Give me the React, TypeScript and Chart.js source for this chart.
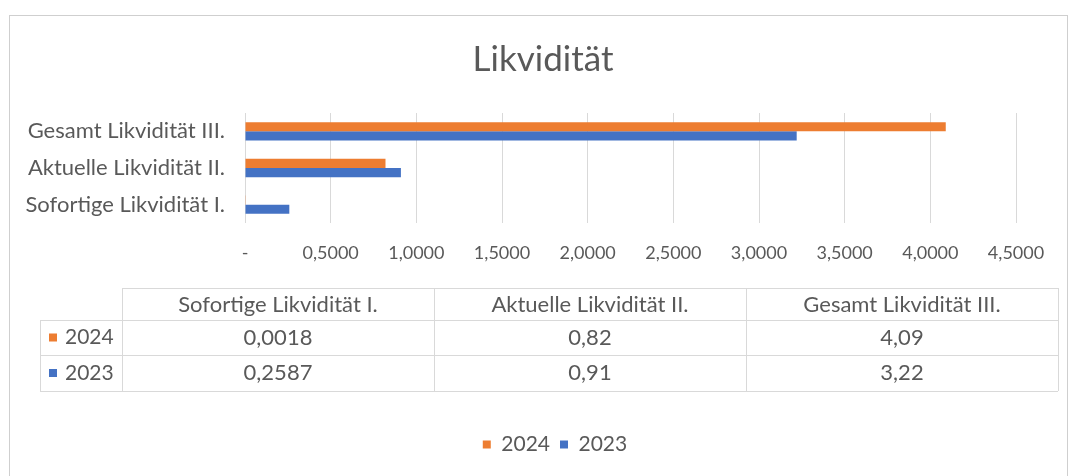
import React, { useEffect, useRef } from "react";
import { Chart, registerables } from "chart.js";

Chart.register(...registerables);

const categories = ["Sofortige Likvidität I.", "Aktuelle Likvidität II.", "Gesamt Likvidität III."];
const seriesNames = ["2024", "2023"];
const values2024 = [0.0018, 0.82, 4.09];
const values2023 = [0.2587, 0.91, 3.22];
const seriesColors = ["#ED7D31", "#4472C4"];
const titleText = "Likvidität";
const axisMin = 0;
const axisMax = 4.5;
const axisStep = 0.5;

const FONT = "Lato, 'Noto Sans', sans-serif";
const TEXT = "#595959";
const GRID = "#d9d9d9";

const fmtTick = (v: number) => (v === 0 ? "-" : v.toFixed(4).replace(".", ","));
const fmtCell = (v: number) => String(v).replace(".", ",");

const framePlugin = {
  id: "frame",
  beforeDraw(chart: any) {
    const ctx = chart.ctx;
    ctx.save();
    ctx.fillStyle = "#ffffff";
    ctx.fillRect(0, 0, chart.width, chart.height);
    ctx.strokeStyle = "#cfcfcf";
    ctx.lineWidth = 1;
    ctx.strokeRect(9.5, 15.5, 1058, 480);
    ctx.restore();
  },
};

const boxShiftPlugin = {
  id: "boxShift",
  afterLayout(chart: any) {
    const lg = chart.legend;
    if (lg) {
      lg.left += 42;
      lg.right += 42;
    }
    const tb = chart.titleBlock;
    if (tb) {
      tb.left += 30;
      tb.right += 30;
    }
  },
};

const tablePlugin = {
  id: "dataTable",
  afterDraw(chart: any) {
    const ctx = chart.ctx;
    const colL = 122;
    const colR = 1058;
    const labelL = 40;
    const rows = [288, 320, 355, 391];
    const n = categories.length;
    const colW = (colR - colL) / n;
    const series = [values2024, values2023];
    ctx.save();
    ctx.strokeStyle = GRID;
    ctx.lineWidth = 1;
    const line = (x1: number, y1: number, x2: number, y2: number) => {
      ctx.beginPath();
      ctx.moveTo(x1, y1);
      ctx.lineTo(x2, y2);
      ctx.stroke();
    };
    line(colL, rows[0] + 0.5, colR, rows[0] + 0.5);
    for (let r = 1; r < rows.length; r++) line(labelL, rows[r] + 0.5, colR, rows[r] + 0.5);
    for (let i = 0; i <= n; i++) {
      const x = Math.round(colL + i * colW) + 0.5;
      line(x, rows[0], x, rows[3]);
    }
    line(labelL + 0.5, rows[1], labelL + 0.5, rows[3]);

    ctx.fillStyle = TEXT;
    ctx.textAlign = "center";
    ctx.textBaseline = "middle";
    ctx.font = `22px ${FONT}`;
    categories.forEach((c, i) => {
      ctx.fillText(c, colL + colW * (i + 0.5), (rows[0] + rows[1]) / 2 + 1);
    });
    ctx.font = `22px ${FONT}`;
    series.forEach((vals, s) => {
      const yc = (rows[s + 1] + rows[s + 2]) / 2;
      vals.forEach((v, i) => {
        ctx.fillText(fmtCell(v), colL + colW * (i + 0.5), yc);
      });
      ctx.fillStyle = seriesColors[s];
      ctx.fillRect(labelL + 9, yc - 4, 8, 8);
      ctx.fillStyle = TEXT;
      ctx.textAlign = "left";
      ctx.font = `21px ${FONT}`;
      ctx.fillText(seriesNames[s], labelL + 25, yc);
      ctx.font = `22px ${FONT}`;
      ctx.textAlign = "center";
    });
    ctx.restore();
  },
};

export default function App() {
  const ref = useRef<HTMLCanvasElement | null>(null);
  useEffect(() => {
    document.body.style.margin = "0";
    const canvas = ref.current;
    if (!canvas) return;
    const chart = new Chart(canvas, {
      type: "bar",
      data: {
        labels: categories,
        datasets: [
          { label: seriesNames[0], data: values2024, backgroundColor: seriesColors[0] },
          { label: seriesNames[1], data: values2023, backgroundColor: seriesColors[1] },
        ],
      },
      options: {
        indexAxis: "y",
        responsive: false,
        animation: false,
        layout: { padding: { top: 20, left: 10, right: 58, bottom: 11 } },
        datasets: { bar: { barPercentage: 1, categoryPercentage: 0.5 } },
        scales: {
          y: {
            reverse: true,
            grid: { display: false, drawTicks: false },
            border: { display: false },
            ticks: { color: TEXT, font: { family: FONT, size: 22 }, padding: 20 },
            afterFit: (scale: any) => {
              scale.width = 235;
            },
          },
          x: {
            min: axisMin,
            max: axisMax,
            grid: { color: GRID, drawTicks: false },
            border: { display: false },
            ticks: {
              stepSize: axisStep,
              color: TEXT,
              font: { family: FONT, size: 18 },
              padding: 19,
              callback: (v: any) => fmtTick(Number(v)),
            },
            afterFit: (scale: any) => {
              scale.height = 201;
            },
          },
        },
        plugins: {
          title: {
            display: true,
            text: titleText,
            color: TEXT,
            font: { family: FONT, size: 35, weight: "normal" },
            padding: { top: 19, bottom: 32 },
          },
          legend: {
            position: "bottom",
            labels: {
              color: TEXT,
              font: { family: FONT, size: 21 },
              boxWidth: 8,
              boxHeight: 8,
              padding: 10,
            },
          },
          tooltip: { enabled: false },
        },
      },
      plugins: [framePlugin, boxShiftPlugin, tablePlugin],
    });
    return () => chart.destroy();
  }, []);
  return <canvas ref={ref} width={1074} height={476} style={{ display: "block" }} />;
}
